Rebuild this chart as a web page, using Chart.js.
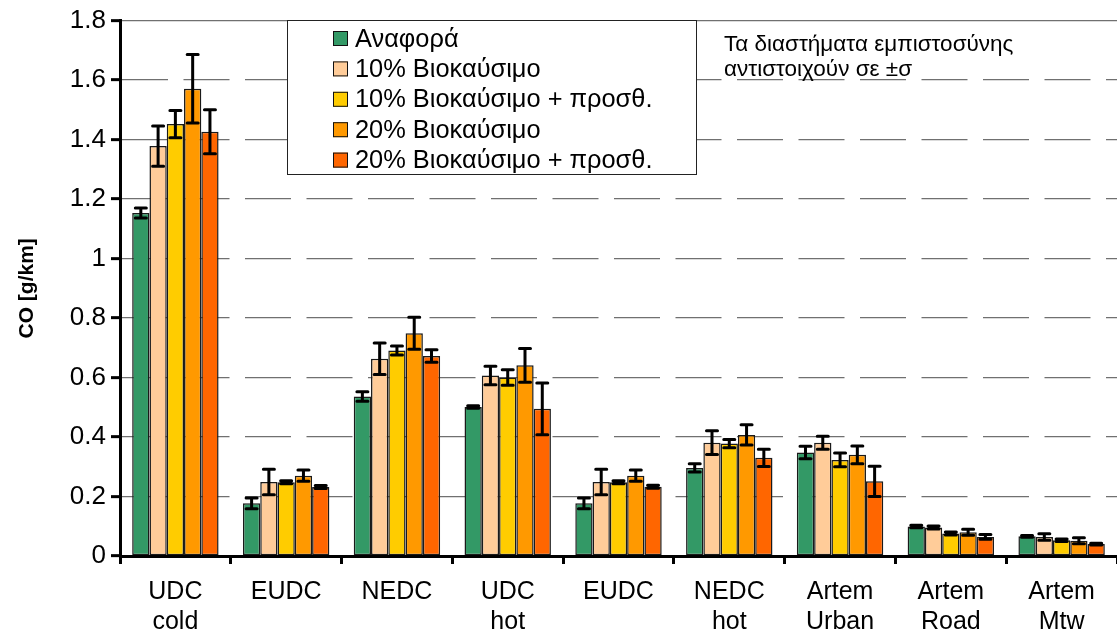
<!DOCTYPE html>
<html>
<head>
<meta charset="utf-8">
<title>CO emissions</title>
<script src="https://cdn.jsdelivr.net/npm/chart.js@4"></script>
<style>
  html, body { margin: 0; padding: 0; background: #ffffff; }
  #wrap { width: 1117px; height: 637px; position: relative; }
</style>
</head>
<body>
<div id="wrap"><canvas id="chart" width="1117" height="637"></canvas></div>
<script>
// Driving cycles
const categories = [
  ['UDC', 'cold'], ['EUDC'], ['NEDC'], ['UDC', 'hot'], ['EUDC'],
  ['NEDC', 'hot'], ['Artem', 'Urban'], ['Artem', 'Road'], ['Artem', 'Mtw']
];

// Fuel names
const seriesNames = [
  'Αναφορά',
  '10% Βιοκαύσιμο',
  '10% Βιοκαύσιμο + προσθ.',
  '20% Βιοκαύσιμο',
  '20% Βιοκαύσιμο + προσθ.'
];

// Mean CO [g/km]
const reference = [1.153, 0.177, 0.536, 0.501, 0.177, 0.296, 0.348, 0.099, 0.066];
const bio10     = [1.378, 0.249, 0.663, 0.607, 0.249, 0.381, 0.381, 0.096, 0.064];
const bio10Add  = [1.452, 0.248, 0.691, 0.600, 0.248, 0.378, 0.323, 0.076, 0.053];
const bio20     = [1.571, 0.270, 0.749, 0.641, 0.270, 0.407, 0.340, 0.080, 0.051];
const bio20Add  = [1.426, 0.232, 0.672, 0.495, 0.233, 0.330, 0.251, 0.064, 0.040];

// Standard deviation (±σ)
const referenceSd = [0.017, 0.018, 0.016, 0.004, 0.018, 0.014, 0.021, 0.004, 0.003];
const bio10Sd     = [0.068, 0.043, 0.053, 0.031, 0.043, 0.040, 0.022, 0.005, 0.011];
const bio10AddSd  = [0.046, 0.005, 0.015, 0.026, 0.005, 0.014, 0.023, 0.005, 0.004];
const bio20Sd     = [0.115, 0.019, 0.054, 0.057, 0.019, 0.034, 0.030, 0.010, 0.010];
const bio20AddSd  = [0.074, 0.005, 0.021, 0.087, 0.005, 0.029, 0.051, 0.008, 0.003];

// Y axis
const yMin = 0;
const yMax = 1.8;
const yStep = 0.2;

const noteLines = ['Τα διαστήματα εμπιστοσύνης', 'αντιστοιχούν σε ±σ'];

const FONT = "'Liberation Sans', Arial, sans-serif";
const colors = ['#339966', '#FFCC99', '#FFCC00', '#FF9900', '#FF6600'];
const values = [reference, bio10, bio10Add, bio20, bio20Add];
const sds = [referenceSd, bio10Sd, bio10AddSd, bio20Sd, bio20AddSd];

const datasets = values.map((v, i) => ({
  label: seriesNames[i],
  data: v,
  sd: sds[i],
  backgroundColor: colors[i],
  borderColor: '#1a1a1a',
  borderWidth: 1.5,
  borderSkipped: false,
  categoryPercentage: 0.78,
  barPercentage: 1.0
}));

// Error bars at ±σ
const errorBars = {
  id: 'errorBars',
  afterDatasetsDraw(chart) {
    const ctx = chart.ctx;
    const y = chart.scales.y;
    ctx.save();
    ctx.strokeStyle = '#000';
    ctx.lineWidth = 3;
    ctx.lineCap = 'round';
    chart.data.datasets.forEach((ds, di) => {
      const meta = chart.getDatasetMeta(di);
      meta.data.forEach((bar, i) => {
        const v = ds.data[i], s = ds.sd[i];
        const top = y.getPixelForValue(v + s);
        const bot = y.getPixelForValue(v - s);
        const x = bar.x;
        const half = 5.5;
        ctx.beginPath();
        ctx.moveTo(x, top); ctx.lineTo(x, bot);
        ctx.moveTo(x - half, top); ctx.lineTo(x + half, top);
        ctx.moveTo(x - half, bot); ctx.lineTo(x + half, bot);
        ctx.stroke();
      });
    });
    ctx.restore();
  }
};

// Boxed legend and note inside the plot
const boxLegend = {
  id: 'boxLegend',
  afterDraw(chart) {
    const ctx = chart.ctx;
    const bx = 287.5, by = 20.5, bw = 409, bh = 154;
    ctx.save();
    ctx.fillStyle = '#fff';
    ctx.fillRect(bx, by, bw, bh);
    ctx.strokeStyle = '#222';
    ctx.lineWidth = 1;
    ctx.strokeRect(bx, by, bw, bh);
    ctx.font = '25.4px ' + FONT;
    ctx.textBaseline = 'middle';
    ctx.textAlign = 'left';
    chart.data.datasets.forEach((ds, i) => {
      const cy = 38.5 + i * 30.4;
      ctx.fillStyle = ds.backgroundColor;
      ctx.fillRect(333, cy - 7.5, 15, 15);
      ctx.strokeStyle = '#111';
      ctx.lineWidth = 1;
      ctx.strokeRect(333.5, cy - 7, 14, 14);
      ctx.fillStyle = '#000';
      ctx.fillText(ds.label, 355, cy + 1);
    });
    ctx.font = '22.5px ' + FONT;
    ctx.fillStyle = '#000';
    noteLines.forEach((t, i) => ctx.fillText(t, 724, 45 + i * 25));
    ctx.restore();
  }
};

new Chart(document.getElementById('chart'), {
  type: 'bar',
  data: { labels: categories, datasets },
  plugins: [errorBars, boxLegend],
  options: {
    responsive: false,
    animation: false,
    layout: { padding: { top: 19, right: 0, bottom: 0, left: 0 } },
    plugins: { legend: { display: false }, tooltip: { enabled: false } },
    scales: {
      x: {
        offset: true,
        grid: {
          offset: true,
          drawOnChartArea: false,
          drawTicks: true,
          tickLength: 8,
          tickWidth: 3,
          tickColor: '#000'
        },
        border: { display: true, color: '#000', width: 3 },
        ticks: {
          color: '#000',
          font: { family: FONT, size: 25, lineHeight: 1.2 },
          padding: 13,
          maxRotation: 0,
          autoSkip: false
        },
        afterFit(scale) { scale.height = 81; }
      },
      y: {
        min: yMin,
        max: yMax,
        grid: {
          color: '#707070',
          lineWidth: 1.3,
          drawTicks: true,
          tickLength: 9,
          tickWidth: 3,
          tickColor: '#000'
        },
        border: {
          display: true,
          color: '#000',
          width: 3,
          dash: (c) => (c.tick && c.tick.value < yMax - 1e-9 ? [46, 15.5] : [])
        },
        ticks: {
          stepSize: yStep,
          color: '#000',
          font: { family: FONT, size: 26 },
          padding: 5,
          callback: (v) => String(+Number(v).toFixed(1))
        },
        title: {
          display: true,
          text: 'CO [g/km]',
          color: '#000',
          font: { family: FONT, size: 21, weight: 'bold' },
          padding: { top: 15, bottom: 0 }
        },
        afterFit(scale) { scale.width = 120; }
      }
    }
  }
});
</script>
</body>
</html>
